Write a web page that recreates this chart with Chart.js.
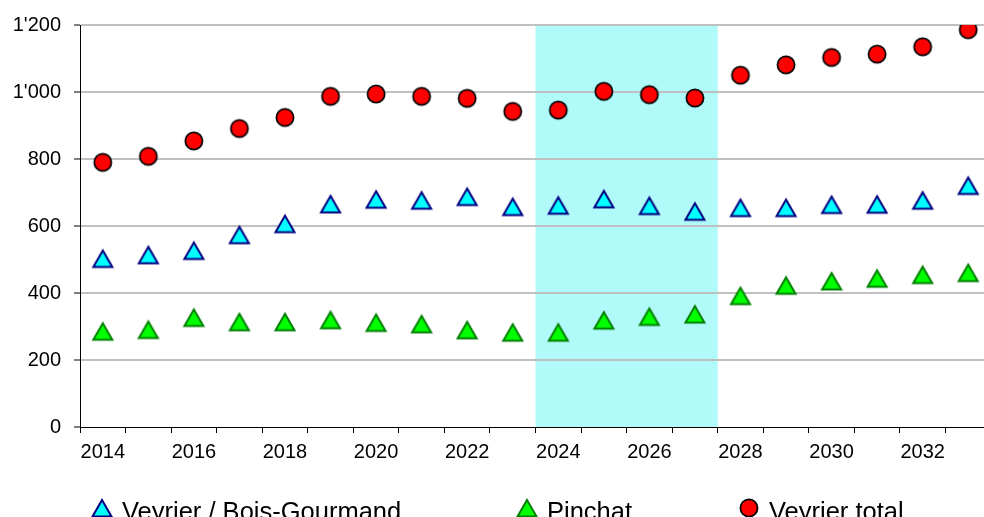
<!DOCTYPE html>
<html>
<head>
<meta charset="utf-8">
<script src="https://cdn.jsdelivr.net/npm/chart.js@4.4.0/dist/chart.umd.min.js"></script>
<style>
  html, body { margin: 0; padding: 0; background: #fff; overflow: hidden; }
  #chart { display: block; }
</style>
</head>
<body>
<canvas id="chart" width="1002" height="530"></canvas>
<script>
const years = ['2014', '2015', '2016', '2017', '2018', '2019', '2020', '2021', '2022', '2023',
               '2024', '2025', '2026', '2027', '2028', '2029', '2030', '2031', '2032', '2033'];
const boisGourmand = [503, 514, 527, 574, 607, 666, 680, 677, 688, 658, 662, 681, 661, 644, 655, 655, 664, 665, 677, 721];
const pinchat = [286, 291, 327, 314, 314, 320, 312, 308, 290, 283, 283, 319, 330, 337, 392, 423, 436, 444, 455, 461];
const veyrierTotal = [790, 808, 854, 891, 924, 987, 994, 987, 981, 942, 946, 1002, 992, 982, 1050, 1081, 1103, 1113, 1135, 1186];
const yTicks = [0, 200, 400, 600, 800, 1000, 1200];
const periode = ['2024', '2027'];

const FONT = '"Liberation Sans", Arial, sans-serif';

// marqueurs dessinés une fois, utilisés pour les points et la légende
function triangle(fill, stroke) {
  const c = document.createElement('canvas');
  c.width = 24; c.height = 24;
  const g = c.getContext('2d');
  g.beginPath();
  g.moveTo(12, 4); g.lineTo(21.5, 20.5); g.lineTo(2.5, 20.5); g.closePath();
  g.fillStyle = fill; g.fill();
  g.lineWidth = 2; g.strokeStyle = stroke; g.stroke();
  return c;
}
function rond(fill, stroke) {
  const c = document.createElement('canvas');
  c.width = 24; c.height = 24;
  const g = c.getContext('2d');
  g.beginPath();
  g.arc(12, 12, 8.6, 0, Math.PI * 2);
  g.fillStyle = fill; g.fill();
  g.lineWidth = 1.7; g.strokeStyle = stroke; g.stroke();
  return c;
}

const triCyan = triangle('#00FFFF', '#000080');
const triVert = triangle('#00FF00', '#008000');
const rondRouge = rond('#FF0000', '#000000');

function milliers(v) {
  return String(v).replace(/\B(?=(\d{3})+(?!\d))/g, "'");
}

// bande de fond sur la période choisie
const bande = {
  id: 'bande',
  beforeDraw(chart) {
    const x = chart.scales.x, area = chart.chartArea, ctx = chart.ctx;
    const demi = (x.getPixelForValue(1) - x.getPixelForValue(0)) / 2;
    const x0 = x.getPixelForValue(years.indexOf(periode[0])) - demi;
    const x1 = x.getPixelForValue(years.indexOf(periode[1])) + demi;
    ctx.save();
    ctx.fillStyle = '#B0FAFA';
    ctx.fillRect(x0, area.top, x1 - x0, area.bottom - area.top);
    ctx.restore();
  }
};

// légende en bas : marqueur puis libellé, départ de chaque entrée fixé
const legendeX = [92, 517, 739];
const legende = {
  id: 'legende',
  afterDraw(chart) {
    const ctx = chart.ctx;
    ctx.save();
    ctx.font = '25.5px ' + FONT;
    ctx.fillStyle = '#000';
    ctx.textBaseline = 'alphabetic';
    chart.data.datasets.forEach((ds, i) => {
      const img = ds.pointStyle, x = legendeX[i];
      ctx.drawImage(img, Math.round(x + 10 - img.width / 2), Math.round(507.5 - img.height / 2));
      ctx.fillText(ds.label, x + 30, 519.5);
    });
    ctx.restore();
  }
};

new Chart(document.getElementById('chart'), {
  type: 'line',
  data: {
    labels: years,
    datasets: [
      { label: 'Veyrier / Bois-Gourmand', data: boisGourmand, pointStyle: triCyan, showLine: false, pointRadius: 10 },
      { label: 'Pinchat', data: pinchat, pointStyle: triVert, showLine: false, pointRadius: 10 },
      { label: 'Veyrier total', data: veyrierTotal, pointStyle: rondRouge, showLine: false, pointRadius: 10 }
    ]
  },
  options: {
    responsive: false,
    animation: false,
    events: [],
    layout: { padding: { top: 25, right: 2, bottom: 63, left: 0 } },
    plugins: { legend: { display: false }, tooltip: { enabled: false } },
    scales: {
      x: {
        offset: true,
        grid: { offset: true, drawOnChartArea: false, color: '#000', lineWidth: 1, tickLength: 6 },
        border: { color: '#000', width: 1 },
        ticks: {
          autoSkip: false, maxRotation: 0, padding: 7, color: '#000',
          font: { family: FONT, size: 20 },
          callback: function (v, i) { return i % 2 === 0 ? this.getLabelForValue(v) : ''; }
        },
        afterFit: s => { s.height = 40; }
      },
      y: {
        min: 0, max: 1200,
        afterBuildTicks: s => { s.ticks = yTicks.map(v => ({ value: v })); },
        grid: {
          color: c => (c.tick && c.tick.value === 0 ? 'rgba(0,0,0,0)' : '#C0C0C0'),
          lineWidth: 2, tickColor: '#000', tickWidth: 1, tickLength: 6
        },
        border: { color: '#000', width: 1 },
        ticks: { padding: 13, color: '#000', font: { family: FONT, size: 20 }, callback: v => milliers(v) },
        afterFit: s => { s.width = 80; }
      }
    }
  },
  plugins: [bande, legende]
});
</script>
</body>
</html>
